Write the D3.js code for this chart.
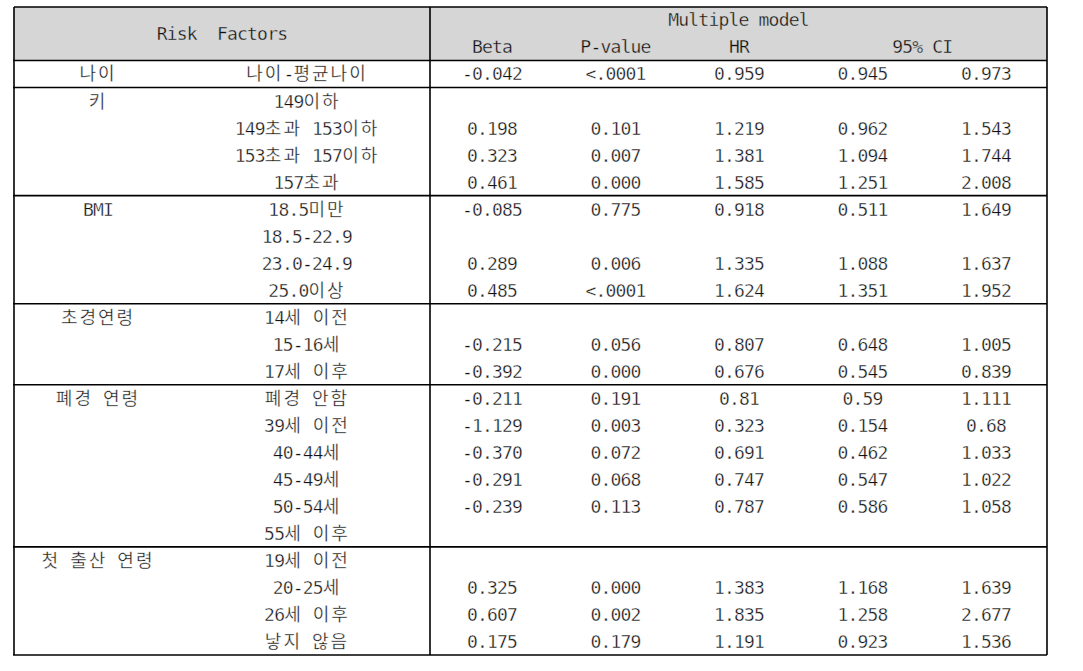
<!DOCTYPE html>
<html><head><meta charset="utf-8">
<script src="https://cdn.jsdelivr.net/npm/d3@7"></script>
<style>
html,body{margin:0;padding:0;background:#fff;}
text{font-family:"DejaVu Sans Mono",monospace;font-size:18px;letter-spacing:-0.8px;fill:#111;white-space:pre;stroke:#fff;stroke-width:0.35px;paint-order:normal;}
tspan.ko{font-family:"Noto Sans CJK KR","DejaVu Sans";font-size:18px;letter-spacing:2px;}
</style></head>
<body>
<svg id="c" width="1083" height="671"></svg>
<script>
// ---- data ----
const groupLabels = ["나이","키","BMI","초경연령","폐경 연령","첫 출산 연령"];
const groupSizes  = [1,4,4,3,6,4];
const levels = ["나이-평균나이","149이하","149초과 153이하","153초과 157이하","157초과",
  "18.5미만","18.5-22.9","23.0-24.9","25.0이상",
  "14세 이전","15-16세","17세 이후",
  "폐경 안함","39세 이전","40-44세","45-49세","50-54세","55세 이후",
  "19세 이전","20-25세","26세 이후","낳지 않음"];
const beta   = ["-0.042","","0.198","0.323","0.461","-0.085","","0.289","0.485","","-0.215","-0.392","-0.211","-1.129","-0.370","-0.291","-0.239","","","0.325","0.607","0.175"];
const pValue = ["<.0001","","0.101","0.007","0.000","0.775","","0.006","<.0001","","0.056","0.000","0.191","0.003","0.072","0.068","0.113","","","0.000","0.002","0.179"];
const hr     = ["0.959","","1.219","1.381","1.585","0.918","","1.335","1.624","","0.807","0.676","0.81","0.323","0.691","0.747","0.787","","","1.383","1.835","1.191"];
const ciLow  = ["0.945","","0.962","1.094","1.251","0.511","","1.088","1.351","","0.648","0.545","0.59","0.154","0.462","0.547","0.586","","","1.168","1.258","0.923"];
const ciHigh = ["0.973","","1.543","1.744","2.008","1.649","","1.637","1.952","","1.005","0.839","1.111","0.68","1.033","1.022","1.058","","","1.639","2.677","1.536"];
const headerTitle = "Risk  Factors";
const headerModel = "Multiple model";
const subHeaders = ["Beta","P-value","HR","95% CI"];

// ---- layout ----
const svg = d3.select("#c");
const L = 14, R = 1047, T = 7, HB = 60.5, B = 655, SPLIT = 430;
const rowIdx = d3.range(levels.length);
const y = d3.scaleBand().domain(rowIdx).range([HB, B]);
const xLab = d3.scaleOrdinal().domain(["group","level"]).range([98, 307]);
const valCols = ["beta","p","hr","lo","hi"];
const xVal = d3.scalePoint().domain(valCols).range([492, 986]);
const colData = {beta:beta, p:pValue, hr:hr, lo:ciLow, hi:ciHigh};

function addText(g, x, yy, str){
  const t = g.append("text").attr("x", x).attr("y", yy).attr("text-anchor","middle").attr("dy","0.36em");
  const parts = str.match(/[\u3131-\uD7A3]+|[^\u3131-\uD7A3]+/g) || [];
  parts.forEach(p=>{
    const ts = t.append("tspan").text(p);
    if (/[\u3131-\uD7A3]/.test(p)) ts.attr("class","ko");
  });
  return t;
}

// header background
svg.append("rect").attr("x", L).attr("y", T).attr("width", R-L).attr("height", HB-T).attr("fill", "#d6d6d6");

const gt = svg.append("g");
addText(gt, (L+SPLIT)/2, 34, headerTitle).style("stroke","#d6d6d6");
addText(gt, (SPLIT+R)/2, 20, headerModel).style("stroke","#d6d6d6");
addText(gt, xVal("beta"), 47, subHeaders[0]).style("stroke","#d6d6d6");
addText(gt, xVal("p"), 47, subHeaders[1]).style("stroke","#d6d6d6");
addText(gt, xVal("hr"), 47, subHeaders[2]).style("stroke","#d6d6d6");
addText(gt, (xVal("lo")+xVal("hi"))/2 - 2, 47, subHeaders[3]).style("stroke","#d6d6d6");

// group labels
let start = 0;
const groupStarts = [];
groupSizes.forEach((n,i)=>{ groupStarts.push(start); addText(gt, xLab("group"), y(start)+y.bandwidth()/2, groupLabels[i]); start += n; });

// level labels and values
rowIdx.forEach(i=>{
  const cy = y(i)+y.bandwidth()/2;
  addText(gt, xLab("level"), cy, levels[i]);
  valCols.forEach(c=>{ if (colData[c][i]) addText(gt, xVal(c), cy, colData[c][i]); });
});

// lines
const gl = svg.append("g").attr("stroke","#000").attr("stroke-width",1.6).attr("fill","none");
gl.append("line").attr("x1",L).attr("x2",R).attr("y1",T).attr("y2",T);
gl.append("line").attr("x1",L-1).attr("x2",R).attr("y1",HB).attr("y2",HB);
groupStarts.slice(1).forEach(s=>{
  gl.append("line").attr("x1",L-1).attr("x2",R).attr("y1",y(s)).attr("y2",y(s));
});
gl.append("line").attr("x1",L-1).attr("x2",R).attr("y1",B).attr("y2",B);
gl.append("line").attr("x1",L).attr("x2",L).attr("y1",T).attr("y2",B);
gl.append("line").attr("x1",R).attr("x2",R).attr("y1",T).attr("y2",B);
gl.append("line").attr("x1",SPLIT).attr("x2",SPLIT).attr("y1",T).attr("y2",B);
</script>
</body></html>
